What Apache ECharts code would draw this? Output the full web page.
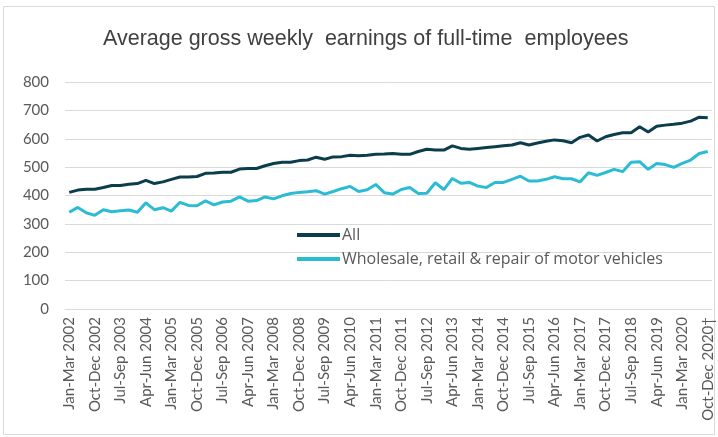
<!DOCTYPE html>
<html>
<head>
<meta charset="utf-8">
<script src="https://cdn.jsdelivr.net/npm/echarts@6/dist/echarts.min.js"></script>
<style>
  html, body { margin: 0; padding: 0; background: #fff; }
  #main { width: 718px; height: 437px; }
</style>
</head>
<body>
<div id="main"></div>
<script>
var chart = echarts.init(document.getElementById('main'));

var quarters = ['Jan-Mar', 'Apr-Jun', 'Jul-Sep', 'Oct-Dec'];
var years = [2002, 2003, 2004, 2005, 2006, 2007, 2008, 2009, 2010, 2011,
  2012, 2013, 2014, 2015, 2016, 2017, 2018, 2019, 2020];

var categories = [];
years.forEach(function (y) {
  quarters.forEach(function (q) { categories.push(q + ' ' + y); });
});
categories[categories.length - 1] += '\u2020';

const allEmployees = [
  411, 419, 422, 422, 428, 435, 435, 440, 442, 453,
  442, 448, 457, 465, 465, 467, 478, 479, 482, 482,
  493, 495, 495, 505, 513, 517, 517, 523, 525, 535,
  528, 536, 537, 542, 540, 542, 545, 546, 548, 545,
  545, 555, 563, 560, 560, 575, 566, 563, 566, 569,
  572, 575, 578, 586, 578, 585, 591, 596, 593, 586,
  605, 613, 592, 607, 615, 621, 621, 642, 624, 644,
  648, 651, 655, 662, 676, 674
];

const wholesale = [
  341, 358, 339, 330, 350, 343, 346, 349, 341, 374,
  350, 357, 345, 376, 365, 364, 381, 367, 377, 380,
  395, 380, 382, 395, 388, 399, 407, 411, 413, 417,
  405, 414, 424, 432, 414, 420, 439, 410, 405, 421,
  428, 407, 408, 445, 421, 460, 443, 446, 433, 428,
  446, 446, 457, 468, 451, 451, 457, 466, 459, 459,
  448, 480, 471, 481, 492, 484, 517, 519, 492, 513,
  509, 499, 513, 525, 548, 555
];

var labelFont = 'Lato';
var option = {
  animation: false,
  title: {
    text: 'Average gross weekly  earnings of full-time  employees',
    left: 103,
    top: 28,
    padding: 0,
    textStyle: {
      fontFamily: 'Liberation Sans',
      fontWeight: 'normal',
      fontSize: 21.5,
      color: '#404040'
    }
  },
  graphic: [{
    type: 'rect',
    shape: { x: 3.5, y: 6.5, width: 711, height: 428 },
    style: { fill: 'none', stroke: '#d9d9d9', lineWidth: 1 },
    silent: true
  }],
  legend: {
    orient: 'vertical',
    left: 297,
    top: 227,
    padding: 0,
    icon: 'rect',
    itemWidth: 43,
    itemHeight: 4,
    itemGap: 8,
    textStyle: {
      fontFamily: 'Open Sans',
      fontSize: 16,
      color: '#595959',
      padding: [0, 0, 0, -3]
    },
    data: ['All', 'Wholesale, retail & repair of motor vehicles']
  },
  grid: { left: 65, right: 6, top: 82, bottom: 128 },
  xAxis: {
    type: 'category',
    data: categories,
    boundaryGap: true,
    axisTick: { show: false },
    axisLine: { lineStyle: { color: '#d9d9d9' } },
    axisLabel: {
      interval: 2,
      rotate: 90,
      margin: 8,
      fontFamily: labelFont,
      fontSize: 15,
      color: '#595959'
    }
  },
  yAxis: {
    type: 'value',
    min: 0,
    max: 800,
    interval: 100,
    axisLine: { show: false },
    axisTick: { show: false },
    splitLine: { lineStyle: { color: '#d9d9d9' } },
    axisLabel: { fontFamily: labelFont, fontSize: 15, color: '#595959', margin: 16 }
  },
  series: [
    {
      name: 'All',
      type: 'line',
      data: allEmployees,
      showSymbol: false,
      lineStyle: { width: 3, color: '#0b3d4c' },
      itemStyle: { color: '#0b3d4c' }
    },
    {
      name: 'Wholesale, retail & repair of motor vehicles',
      type: 'line',
      data: wholesale,
      showSymbol: false,
      lineStyle: { width: 3, color: '#2bbcd3' },
      itemStyle: { color: '#2bbcd3' }
    }
  ]
};

option && chart.setOption(option);
</script>
</body>
</html>
